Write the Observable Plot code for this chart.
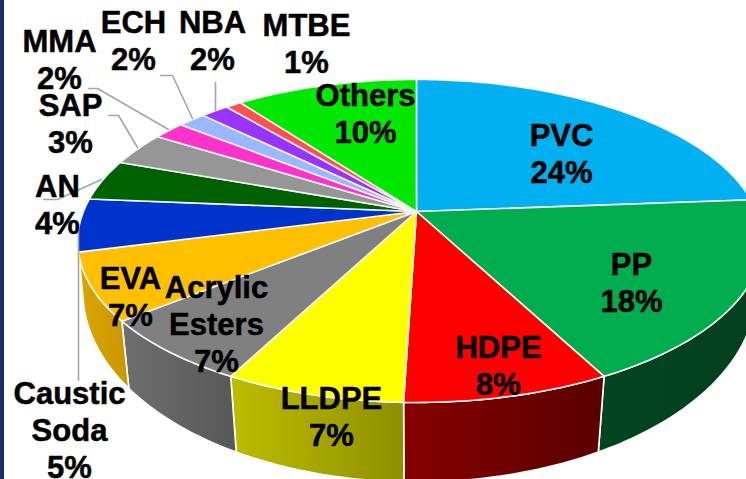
<!DOCTYPE html>
<html>
<head>
<meta charset="utf-8">
<script src="https://cdn.jsdelivr.net/npm/d3@7"></script>
<script src="https://cdn.jsdelivr.net/npm/@observablehq/plot@0.6"></script>
<style>
html,body{margin:0;padding:0;background:#fff;overflow:hidden}
#wrap{position:relative;width:746px;height:479px;overflow:hidden}
#band{position:absolute;left:0;top:0;width:4px;height:479px;background:#1B2E66}
svg{display:block}
</style>
</head>
<body>
<div id="wrap"><div id="chart"></div><div id="band"></div></div>
<script>
// Data
const names   = ["PVC","PP","HDPE","LLDPE","Acrylic\nEsters","EVA","Caustic\nSoda","AN","SAP","MMA","ECH","NBA","MTBE","Others"];
const labels  = [24,18,8,7,7,7,5,4,3,2,2,2,1,10];
const shares  = [23.8,18.5,8.2,7.2,6.6,6.7,5.3,4.1,3.4,1.8,1.6,1.6,0.9,10.3]; // drawn slice sizes
const colors  = ["#00B0F0","#00AD4E","#FF0000","#FFFF00","#808080","#FFC000","#0033CC","#006100","#969696","#FF33CC","#99B8FF","#9933FF","#FF5050","#00E800"];
const wallFrom = [null,"#034520","#860000","#BDBD00","#6E6E6E","#DCA500",null,null,null,null,null,null,null,null];
const wallTo   = [null,"#033F1E","#5A0000","#8F8F00","#585858","#C99600",null,null,null,null,null,null,null,null];

// Layout
const W = 746, H = 479;
const topRing = {x0:416, y0:211, A:156.1, k:0.1826, B:336.5, e:3.5};
const botRing = {x0:416, y0:259, A:185.6, k:0.166,  B:332,   e:3};
const labelX = [561,631,498,331,216,130,69,57,70,59,133,212,306,365];
const labelY = [152,281,364,415,323,295,429,203,122,58,39,39,42,112];
const leaders = [
  {id:"mma", xs:[88,97,168], ys:[88,88,129]},
  {id:"sap", xs:[108,118,137], ys:[115,115,147]},
  {id:"an",  xs:[43,57,101], ys:[199,199,179]},
  {id:"ech", xs:[160,172,192], ys:[75,75,118]},
  {id:"nba", xs:[215,215], ys:[82,110]},
  {id:"caustic", xs:[78,78], ys:[232,380]}
];

const project = (ring, deg) => {
  const t = deg * Math.PI / 180, u = Math.sin(t), v = -Math.cos(t), w = 1 - ring.k * v;
  return {x: ring.x0 + u * (ring.B + ring.e * u) / w, y: ring.y0 + v * ring.A / w};
};
const arc = (ring, a, b) => d3.range(0, 1.0001, 1 / Math.max(2, Math.ceil(Math.abs(b - a)))).map(f => project(ring, a + (b - a) * f));

let c = 0;
const slices = shares.map((s, i) => {
  const a = c / 100 * 360; c += s;
  return {i, a, b: c / 100 * 360};
});

const gradients = () => {
  const defs = d3.create("svg:defs");
  slices.forEach(({i}) => {
    if (!wallFrom[i]) return;
    const g = defs.append("linearGradient").attr("id", "wall" + i);
    g.append("stop").attr("offset", "0").attr("stop-color", wallFrom[i]);
    g.append("stop").attr("offset", "1").attr("stop-color", wallTo[i]);
  });
  return defs.node();
};

const wallMarks = slices.filter(d => wallFrom[d.i]).map(({i, a, b}) => {
  const top = arc(topRing, a, b), bot = arc(botRing, a, b).reverse();
  const pts = [...top, ...bot, top[0]];
  return Plot.line(pts, {x:"x", y:"y", fill:`url(#wall${i})`, stroke:"#fff", strokeWidth:1.6, strokeLinejoin:"round"});
});

const center = {x: topRing.x0, y: topRing.y0};
const faceMarks = slices.map(({i, a, b}) => {
  const pts = [center, ...arc(topRing, a, b), center];
  return Plot.line(pts, {x:"x", y:"y", fill:colors[i], stroke:"#F4F4F4", strokeWidth:1.6, strokeLinejoin:"round"});
});

const leaderMarks = leaders.map(l => Plot.line(l.xs.map((x, j) => ({x, y:l.ys[j]})), {x:"x", y:"y", stroke:"#A6A6A6", strokeWidth:1.6}));

const textRows = names.map((n, i) => ({text:`${n}\n${labels[i]}%`, x:labelX[i], y:labelY[i]}));

const chart = Plot.plot({
  width: W, height: H, margin: 0,
  x: {domain:[0, W], range:[0, W], axis:null},
  y: {domain:[0, H], range:[0, H], axis:null},
  marks: [
    gradients,
    ...wallMarks,
    ...faceMarks,
    ...leaderMarks,
    Plot.text(textRows, {x:"x", y:"y", text:"text", fill:"#000", stroke:"#000", strokeWidth:0.5, fontSize:31, fontWeight:"bold", fontFamily:"Liberation Sans, Arial, sans-serif", lineHeight:1.19, textAnchor:"middle", lineAnchor:"middle"})
  ]
});
document.getElementById("chart").appendChild(chart);
</script>
</body>
</html>
